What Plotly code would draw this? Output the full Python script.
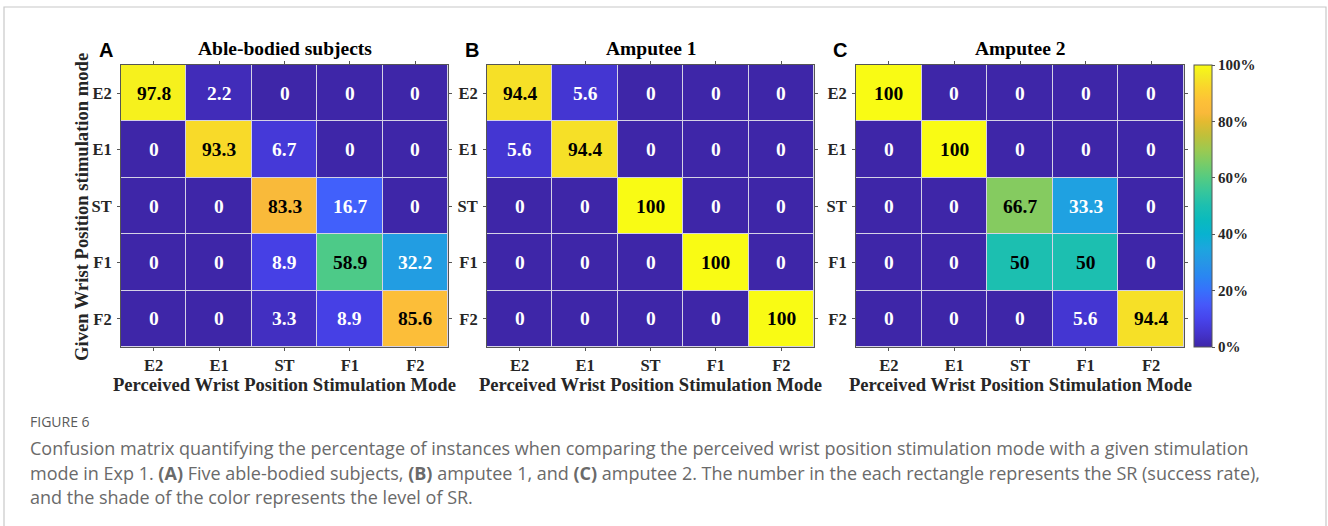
import plotly.graph_objects as go

# Stimulation modes (perceived = columns, given = rows)
modes = ["E2", "E1", "ST", "F1", "F2"]

# Success rates (%) per panel, rows = given mode, columns = perceived mode
able_bodied = [
    [97.8, 2.2, 0, 0, 0],
    [0, 93.3, 6.7, 0, 0],
    [0, 0, 83.3, 16.7, 0],
    [0, 0, 8.9, 58.9, 32.2],
    [0, 0, 3.3, 8.9, 85.6],
]
amputee_1 = [
    [94.4, 5.6, 0, 0, 0],
    [5.6, 94.4, 0, 0, 0],
    [0, 0, 100, 0, 0],
    [0, 0, 0, 100, 0],
    [0, 0, 0, 0, 100],
]
amputee_2 = [
    [100, 0, 0, 0, 0],
    [0, 100, 0, 0, 0],
    [0, 0, 66.7, 33.3, 0],
    [0, 0, 50, 50, 0],
    [0, 0, 0, 5.6, 94.4],
]
panel_titles = ["Able-bodied subjects", "Amputee 1", "Amputee 2"]
panel_letters = ["A", "B", "C"]
cbar_ticks = [0, 20, 40, 60, 80, 100]
cbar_labels = ["0%", "20%", "40%", "60%", "80%", "100%"]

caption_head = "FIGURE 6"
caption_lines = [
    "Confusion matrix quantifying the percentage of instances when comparing the perceived wrist position stimulation mode with a given stimulation",
    "mode in Exp 1. <b>(A)</b> Five able-bodied subjects, <b>(B)</b> amputee 1, and <b>(C)</b> amputee 2. The number in the each rectangle represents the SR (success rate),",
    "and the shade of the color represents the level of SR.",
]

W, H = 1328, 526

# MATLAB-style parula colormap
parula = [
    [0.00, "rgb(62,38,168)"],
    [0.05, "rgb(68,52,206)"],
    [0.10, "rgb(71,68,236)"],
    [0.15, "rgb(70,88,250)"],
    [0.20, "rgb(55,112,252)"],
    [0.25, "rgb(42,134,242)"],
    [0.30, "rgb(38,150,230)"],
    [0.35, "rgb(28,166,222)"],
    [0.40, "rgb(8,178,208)"],
    [0.45, "rgb(10,186,190)"],
    [0.50, "rgb(28,191,176)"],
    [0.55, "rgb(54,198,156)"],
    [0.60, "rgb(84,203,130)"],
    [0.65, "rgb(120,204,104)"],
    [0.70, "rgb(157,201,80)"],
    [0.75, "rgb(192,192,58)"],
    [0.80, "rgb(228,186,48)"],
    [0.83, "rgb(249,185,58)"],
    [0.87, "rgb(253,192,56)"],
    [0.92, "rgb(250,212,44)"],
    [0.96, "rgb(244,232,36)"],
    [1.00, "rgb(249,251,20)"],
]


def fx(x):
    return x / W


def fy(y):
    return 1 - y / H


serif = "Liberation Serif"
x_doms = [(121, 448), (487, 814), (856, 1184)]
y_dom = (65, 347)
data_sets = [able_bodied, amputee_1, amputee_2]

fig = go.Figure()
annotations = []

for i, (z, (x0, x1)) in enumerate(zip(data_sets, x_doms)):
    n = i + 1
    xa = "x" if n == 1 else f"x{n}"
    ya = "y" if n == 1 else f"y{n}"
    trace = go.Heatmap(
        z=z, x=modes, y=modes, zmin=0, zmax=100,
        colorscale=parula, xgap=1, ygap=1, hoverinfo="skip",
        xaxis=xa, yaxis=ya, showscale=(n == 3),
    )
    if n == 3:
        trace.colorbar = dict(
            x=fx(1194), xanchor="left", xpad=0, ypad=0,
            y=fy((y_dom[0] + y_dom[1]) / 2), yanchor="middle",
            len=(y_dom[1] - y_dom[0]) / H, lenmode="fraction",
            thickness=18, thicknessmode="pixels",
            outlinewidth=1, outlinecolor="#555555",
            tickvals=cbar_ticks, ticktext=cbar_labels,
            ticks="outside", ticklen=3, tickcolor="#555555",
            tickfont=dict(family=serif, size=15, color="#262626", weight="bold"),
        )
    fig.add_trace(trace)

    axis_common = dict(
        showline=True, linecolor="#555555", linewidth=1, mirror="ticks",
        ticks="outside", ticklen=3, tickcolor="#555555", showgrid=False,
        zeroline=False, fixedrange=True,
        tickfont=dict(family=serif, size=16.5, color="#262626", weight="bold"),
    )
    fig.layout[f"xaxis{n if n > 1 else ''}"] = dict(
        domain=[fx(x0), fx(x1)], anchor=ya, categoryorder="array",
        categoryarray=modes, ticklabelstandoff=0, **axis_common,
    )
    fig.layout[f"yaxis{n if n > 1 else ''}"] = dict(
        domain=[fy(y_dom[1]), fy(y_dom[0])], anchor=xa, autorange="reversed",
        categoryorder="array", categoryarray=modes, ticklabelstandoff=2,
        **axis_common,
    )

    # cell values
    for r, row_name in enumerate(modes):
        for c, col_name in enumerate(modes):
            v = z[r][c]
            annotations.append(dict(
                x=col_name, y=row_name, xref=xa, yref=ya,
                text=f"{v:g}", showarrow=False,
                font=dict(family=serif, size=19.5, weight="bold",
                          color="black" if v >= 50 else "white"),
            ))

    cx = (x0 + x1) / 2
    annotations.append(dict(
        x=fx(cx), y=fy(48), xref="paper", yref="paper", text=panel_titles[i],
        showarrow=False, xanchor="center", yanchor="middle",
        font=dict(family=serif, size=19.5, weight="bold", color="black"),
    ))
    annotations.append(dict(
        x=fx(cx), y=fy(384), xref="paper", yref="paper",
        text="Perceived Wrist Position Stimulation Mode",
        showarrow=False, xanchor="center", yanchor="middle",
        font=dict(family=serif, size=18.6, weight="bold", color="#262626"),
    ))
    letter_x = [106, 472, 840][i]
    annotations.append(dict(
        x=fx(letter_x), y=fy(50), xref="paper", yref="paper",
        text=panel_letters[i], showarrow=False, xanchor="center", yanchor="middle",
        font=dict(family="Liberation Sans", size=20, weight="bold", color="black"),
    ))

annotations.append(dict(
    x=fx(81), y=fy(207), xref="paper", yref="paper",
    text="Given Wrist Position stimulation mode", textangle=-90,
    showarrow=False, xanchor="center", yanchor="middle",
    font=dict(family=serif, size=18.6, weight="bold", color="#262626"),
))

# caption
annotations.append(dict(
    x=fx(28), y=fy(421), xref="paper", yref="paper", text=caption_head,
    showarrow=False, xanchor="left", yanchor="middle",
    font=dict(family="Open Sans", size=14, color="#5a5a5a"),
))
for k, line in enumerate(caption_lines):
    annotations.append(dict(
        x=fx(28), y=fy(448 + 24.5 * k), xref="paper", yref="paper", text=line,
        showarrow=False, xanchor="left", yanchor="middle",
        font=dict(family="Open Sans", size=18, color="#6a6a6a"),
    ))

# figure frame (open at the bottom edge of the page)
shapes = [dict(
    type="path", xref="paper", yref="paper",
    path=f"M {fx(4)},{fy(530)} L {fx(4)},{fy(7)} L {fx(1326)},{fy(7)} L {fx(1326)},{fy(530)}",
    line=dict(color="#c8c8c8", width=1.2),
)]

fig.update_layout(
    width=W, height=H, margin=dict(l=0, r=0, t=0, b=0),
    paper_bgcolor="white", plot_bgcolor="#d4d2e6",
    annotations=annotations, shapes=shapes, showlegend=False,
)

fig.write_html("out.html")
